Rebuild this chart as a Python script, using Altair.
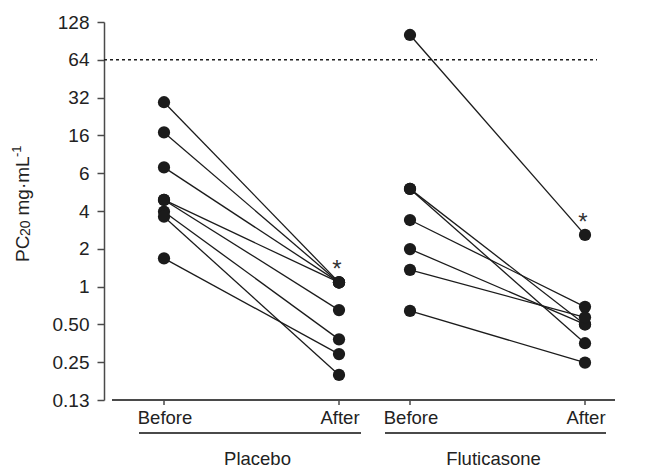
import altair as alt
import pandas as pd

# ---- data ----
groups = ["Placebo", "Fluticasone"]
times = ["Before", "After"]

placebo_before = [29.4, 16.9, 8.9, 4.9, 4.9, 3.95, 3.6, 1.68]
placebo_after = [1.08, 1.08, 1.08, 1.08, 0.65, 0.38, 0.198, 0.29]
flu_before = [100.9, 6.0, 6.0, 3.39, 1.99, 1.36, 0.64]
flu_after = [2.58, 0.50, 0.354, 0.69, 0.50, 0.57, 0.248]

y_ticks = [0.125, 0.25, 0.5, 1, 2, 4, 8, 16, 32, 64, 128]
y_tick_labels = ["0.13", "0.25", "0.50", "1", "2", "4", "6", "16", "32", "64", "128"]
threshold = [64]
star_groups = ["Placebo", "Fluticasone"]
star_values = [1.08, 2.58]

# y-axis title pieces: PC, subscript 20, mg·mL, superscript -1
title_parts = ["PC", "20", "mg·mL", "-1"]

# ---- tables ----
rows = []
for g, b, a in [("Placebo", placebo_before, placebo_after),
                ("Fluticasone", flu_before, flu_after)]:
    for i, (vb, va) in enumerate(zip(b, a)):
        sid = f"{g}-{i}"
        rows.append(dict(group=g, time="Before", value=vb, subject=sid))
        rows.append(dict(group=g, time="After", value=va, subject=sid))
df = pd.DataFrame(rows)

cats = pd.DataFrame([dict(group=g, time=t) for g in groups for t in times])
grp = pd.DataFrame({"group": groups})
stars = pd.DataFrame({"group": star_groups, "time": ["After"] * 2,
                      "value": star_values, "label": ["*"] * 2})
thr = pd.DataFrame({"v": threshold})
one = pd.DataFrame({"k": [0]})

label_expr = ""
for v, l in zip(y_ticks, y_tick_labels):
    label_expr += f"datum.value == {v} ? '{l}' : "
label_expr += "''"

FONT = "Liberation Sans"
INK = "#1b1b1b"
AX = "#4a4a4a"
TXT = "#222222"

xenc = alt.X("group:N", scale=alt.Scale(domain=groups, paddingInner=0.28862,
                                         paddingOuter=0.20122, align=0.6061),
             axis=None)
xoff = alt.XOffset("time:N", scale=alt.Scale(type="point", domain=times, padding=0))

yscale = alt.Scale(type="log", base=2, domain=[0.125, 128], nice=False)
yaxis = alt.Axis(values=y_ticks, labelExpr=label_expr, grid=False,
                 domainColor=AX, domainWidth=1.5, tickColor=AX, tickWidth=1.5,
                 tickSize=7, labelFont=FONT, labelFontSize=19, labelColor=TXT,
                 labelPadding=8, title=None)
yenc = alt.Y("value:Q", scale=yscale, axis=yaxis)

base = alt.Chart(df).encode(x=xenc, xOffset=xoff, y=yenc)
lines = base.mark_line(color=INK, strokeWidth=1.3).encode(detail="subject:N")
points = base.mark_circle(size=150, color=INK, opacity=1)

ref = alt.Chart(thr).mark_rule(color=INK, strokeDash=[3, 3], strokeWidth=1.4).encode(
    y=alt.Y("v:Q", scale=yscale, axis=yaxis), x=alt.value(0), x2=alt.value(493))

xline = alt.Chart(one).mark_rule(color=AX, strokeWidth=2).encode(
    x=alt.value(8), x2=alt.value(511), y=alt.value(378))

ticks = alt.Chart(cats).mark_rule(color=AX, strokeWidth=1.5).encode(
    x=xenc, xOffset=xoff, y=alt.value(378), y2=alt.value(383))

tlabels = alt.Chart(cats).mark_text(font=FONT, fontSize=18.5, color=TXT,
                                    baseline="alphabetic", align="center", dx=1).encode(
    x=xenc, xOffset=xoff, y=alt.value(402), text="time:N")

under_p = alt.Chart(one).mark_rule(color=AX, strokeWidth=2).encode(
    x=alt.value(35), x2=alt.value(257), y=alt.value(411))
under_f = alt.Chart(one).mark_rule(color=AX, strokeWidth=2).encode(
    x=alt.value(281), x2=alt.value(502), y=alt.value(411))

glab_p = alt.Chart(grp).transform_filter(alt.datum.group == "Placebo").mark_text(
    font=FONT, fontSize=18.5, color=TXT, baseline="alphabetic", align="center", dx=6
).encode(x=xenc, y=alt.value(443), text="group:N")
glab_f = alt.Chart(grp).transform_filter(alt.datum.group == "Fluticasone").mark_text(
    font=FONT, fontSize=18.5, color=TXT, baseline="alphabetic", align="center", dx=-4
).encode(x=xenc, y=alt.value(443), text="group:N")

star_txt = alt.Chart(stars).mark_text(font=FONT, fontSize=24, color="#333",
                                      dy=-12, dx=-2).encode(
    x=xenc, xOffset=xoff, y=alt.Y("value:Q", scale=yscale, axis=yaxis), text="label:N")

# rotated y-axis title built from pieces (subscript / superscript)
def tpart(txt, size, x, y):
    return alt.Chart(one).mark_text(text=txt, font=FONT, fontSize=size, color=TXT,
                                    angle=270, align="left",
                                    baseline="alphabetic").encode(
        x=alt.value(x), y=alt.value(y))

t1 = tpart(title_parts[0], 19, -75, 240)
t2 = tpart(title_parts[1], 14, -74, 214)
t3 = tpart(title_parts[2], 19, -75, 193.5)
t4 = tpart(title_parts[3], 13, -83, 135)

chart = alt.layer(ref, lines, points, star_txt, xline, ticks, tlabels,
                  under_p, under_f, glab_p, glab_f, t1, t2, t3, t4).properties(
    width=520, height=378,
    autosize=alt.AutoSizeParams(type="none"),
    padding={"left": 96, "top": 14, "right": 13, "bottom": 70},
).configure_view(stroke=None)

chart.save("out.html", embed_options={"renderer": "svg", "actions": False})
